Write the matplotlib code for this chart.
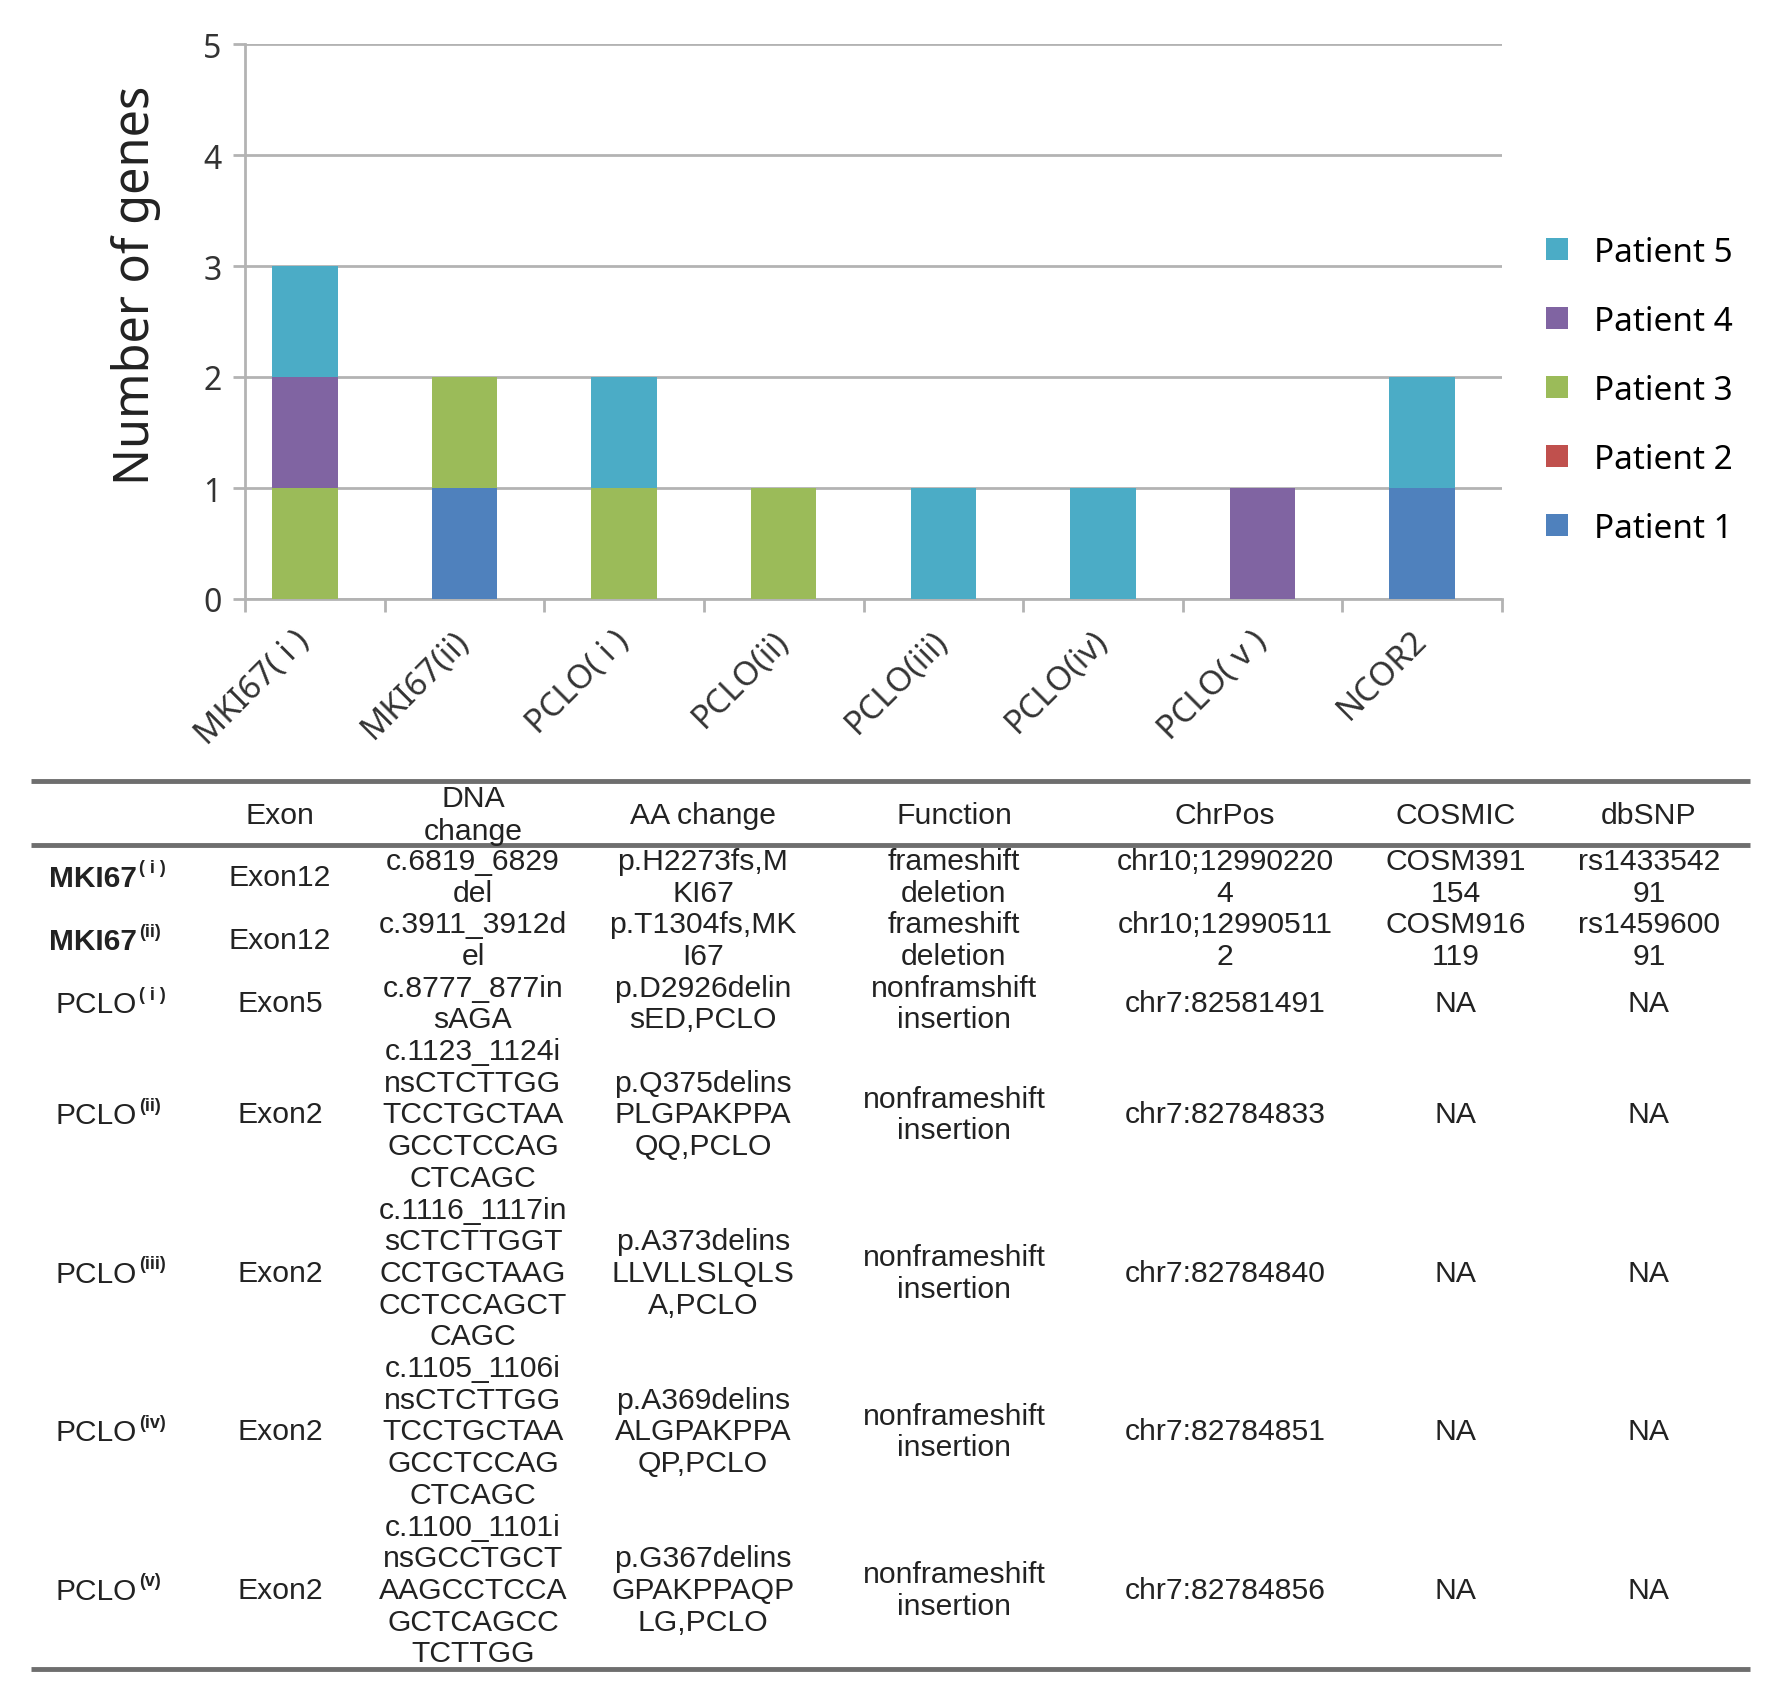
import numpy as np
import matplotlib
matplotlib.use("Agg")
import matplotlib.pyplot as plt
from matplotlib.patches import Patch

# ---- chart data ----
genes = ["MKI67( i )", "MKI67(ii)", "PCLO( i )", "PCLO(ii)",
         "PCLO(iii)", "PCLO(iv)", "PCLO( v )", "NCOR2"]
patients = ["Patient 1", "Patient 2", "Patient 3", "Patient 4", "Patient 5"]
patient1 = [0, 1, 0, 0, 0, 0, 0, 1]
patient2 = [0, 0, 0, 0, 0, 0, 0, 0]
patient3 = [1, 1, 1, 1, 0, 0, 0, 0]
patient4 = [1, 0, 0, 0, 0, 0, 1, 0]
patient5 = [1, 0, 1, 0, 1, 1, 0, 1]
colors = ["#4F81BD", "#C0504D", "#9BBB59", "#8064A2", "#4BACC6"]

# ---- table data ----
header = ["", "Exon", "DNA\nchange", "AA change", "Function", "ChrPos", "COSMIC", "dbSNP"]
row_genes = ["MKI67", "MKI67", "PCLO", "PCLO", "PCLO", "PCLO", "PCLO"]
row_marks = ["( i )", "(ii)", "( i )", "(ii)", "(iii)", "(iv)", "(v)"]
exons = ["Exon12", "Exon12", "Exon5", "Exon2", "Exon2", "Exon2", "Exon2"]
dna_changes = [
    "c.6819_6829\ndel",
    "c.3911_3912d\nel",
    "c.8777_877in\nsAGA",
    "c.1123_1124i\nnsCTCTTGG\nTCCTGCTAA\nGCCTCCAG\nCTCAGC",
    "c.1116_1117in\nsCTCTTGGT\nCCTGCTAAG\nCCTCCAGCT\nCAGC",
    "c.1105_1106i\nnsCTCTTGG\nTCCTGCTAA\nGCCTCCAG\nCTCAGC",
    "c.1100_1101i\nnsGCCTGCT\nAAGCCTCCA\nGCTCAGCC\nTCTTGG",
]
aa_changes = [
    "p.H2273fs,M\nKI67",
    "p.T1304fs,MK\nI67",
    "p.D2926delin\nsED,PCLO",
    "p.Q375delins\nPLGPAKPPA\nQQ,PCLO",
    "p.A373delins\nLLVLLSLQLS\nA,PCLO",
    "p.A369delins\nALGPAKPPA\nQP,PCLO",
    "p.G367delins\nGPAKPPAQP\nLG,PCLO",
]
functions = ["frameshift\ndeletion", "frameshift\ndeletion", "nonframshift\ninsertion",
             "nonframeshift\ninsertion", "nonframeshift\ninsertion",
             "nonframeshift\ninsertion", "nonframeshift\ninsertion"]
chrpos = ["chr10;12990220\n4", "chr10;12990511\n2", "chr7:82581491", "chr7:82784833",
          "chr7:82784840", "chr7:82784851", "chr7:82784856"]
cosmic = ["COSM391\n154", "COSM916\n119", "NA", "NA", "NA", "NA", "NA"]
dbsnp = ["rs1433542\n91", "rs1459600\n91", "NA", "NA", "NA", "NA", "NA"]

W, H = 1772, 1699
plt.rcParams["font.family"] = ["Noto Sans", "DejaVu Sans"]
fig = plt.figure(figsize=(W / 100, H / 100), dpi=100)

# ---- stacked bar chart ----
ax = fig.add_axes([245 / W, 1 - 600 / H, (1502 - 245) / W, (600 - 45) / H])
x = np.arange(len(genes))
bottom = np.zeros(len(genes))
series = [patient1, patient2, patient3, patient4, patient5]
handles = []
for name, vals, c in zip(patients, series, colors):
    ax.bar(x, vals, width=0.41, bottom=bottom, color=c, zorder=3)
    bottom += np.array(vals)
    handles.append(Patch(facecolor=c, label=name))

grid_c = "#b3b3b3"
x_lo, x_hi = -0.375, len(genes) - 0.5
ax.set_xlim(x_lo, x_hi)
ax.set_ylim(0, 5)
ax.set_yticks(range(6))
ax.yaxis.grid(True, color=grid_c, lw=2, zorder=0)
ax.set_axisbelow(True)
for s in ["top", "right"]:
    ax.spines[s].set_visible(False)
for s in ["left", "bottom"]:
    ax.spines[s].set_color(grid_c)
    ax.spines[s].set_linewidth(2)
ax.tick_params(axis="y", length=9, width=2, color=grid_c, labelsize=23,
               labelcolor="#333333", pad=8)
ax.set_xticks(x)
ax.set_xticklabels(genes, rotation=45, ha="right", va="center", rotation_mode="anchor")
ax.tick_params(axis="x", which="major", length=0, labelsize=24, labelcolor="#333333", pad=26)
ax.set_xticks([x_lo] + list(np.arange(0.5, len(genes), 1)), minor=True)
ax.tick_params(axis="x", which="minor", length=9, width=2, color=grid_c)
ax.set_ylabel("Number of genes", fontsize=35, color="#222222")
ax.yaxis.set_label_coords(-0.067, 0.567)

fig.legend(handles=handles[::-1], loc="upper left",
           bbox_to_anchor=(1516 / W, 1 - 207 / H), frameon=False, fontsize=24,
           handlelength=0.65, handleheight=0.65, handletextpad=0.8, labelspacing=1.08)

# ---- table ----
tab = fig.add_axes([0, 0, 1, 1])
tab.set_xlim(0, W)
tab.set_ylim(H, 0)
tab.axis("off")

col_x = [111, 280, 473, 703, 954, 1225, 1456, 1649]
line_h = 31.7
tcolor = "#222222"
cell_font = dict(family="Liberation Sans", fontsize=21.7, color=tcolor,
                 ha="center", va="center")
rule_c = "#6e6e6e"
tab.hlines([782, 846], 31, 1750, color=rule_c, lw=3.5)

# header
for cx, txt in zip(col_x, header):
    lines = txt.split("\n")
    for i, ln in enumerate(lines):
        tab.text(cx, 816 + (i - (len(lines) - 1) / 2) * 33, ln, **cell_font)

rows = list(zip(exons, dna_changes, aa_changes, functions, chrpos, cosmic, dbsnp))
y0 = 846
for r, cells in enumerate(rows):
    n = max(c.count("\n") + 1 for c in cells)
    yc = y0 + n * line_h / 2
    weight = "bold" if row_genes[r] == "MKI67" else "normal"
    tab.text(137, yc + 1, row_genes[r], ha="right", va="center", fontsize=21.5,
             family="Liberation Sans", weight=weight, color=tcolor)
    tab.text(139, yc - 9, row_marks[r], ha="left", va="center",
             fontsize=13, family="Liberation Sans", weight="bold", color=tcolor)
    for cx, txt in zip(col_x[1:], cells):
        lines = txt.split("\n")
        for i, ln in enumerate(lines):
            tab.text(cx, yc + (i - (len(lines) - 1) / 2) * line_h, ln, **cell_font)
    y0 += n * line_h

tab.hlines([y0], 31, 1750, color=rule_c, lw=3.5)

fig.savefig("out.png", dpi=100, facecolor="white")
